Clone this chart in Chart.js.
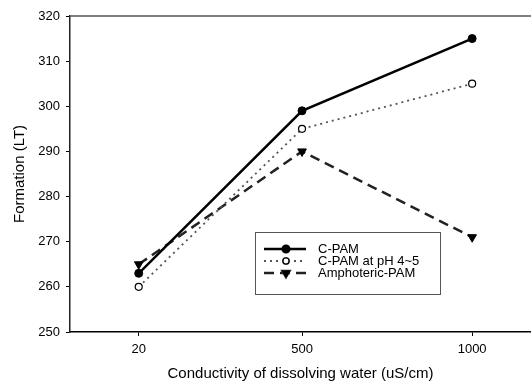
<!DOCTYPE html>
<html>
<head>
<meta charset="utf-8">
<script src="https://cdn.jsdelivr.net/npm/chart.js@4/dist/chart.umd.min.js"></script>
<style>
  html, body { margin: 0; padding: 0; background: #fff; overflow: hidden; }
  #wrap { width: 531px; height: 383px; position: relative; }
  #wrap canvas { display: block; }
</style>
</head>
<body>
<div id="wrap"><canvas id="grafico"></canvas></div>
<script>
// dados
const condutividade = [20, 500, 1000];
const cPam = [263, 299, 315];
const cPamPh = [260, 295, 305];
const anfotericoPam = [265, 290, 271];
const nomesSeries = ['C-PAM', 'C-PAM at pH 4~5', 'Amphoteric-PAM'];
const ticksY = [250, 260, 270, 280, 290, 300, 310, 320];

const fonte = "'Liberation Sans', Arial, sans-serif";

function pontos(valores) {
    return condutividade.map((x, i) => ({ x: x, y: valores[i] }));
}

const series = [
    {
        label: nomesSeries[0],
        data: pontos(cPam),
        borderColor: '#000',
        borderWidth: 2.5,
        pointStyle: 'circle',
        pointRadius: 4,
        pointBackgroundColor: '#000',
        pointBorderColor: '#000',
        pointBorderWidth: 1,
        legendaRaio: 3.3
    },
    {
        label: nomesSeries[1],
        data: pontos(cPamPh),
        borderColor: '#555',
        borderWidth: 1.8,
        borderDash: [2, 4],
        pointStyle: 'circle',
        pointRadius: 3.5,
        pointBackgroundColor: '#fff',
        pointBorderColor: '#000',
        pointBorderWidth: 1.2,
        legendaRaio: 3
    },
    {
        label: nomesSeries[2],
        data: pontos(anfotericoPam),
        borderColor: '#222',
        borderWidth: 2.5,
        borderDash: [10, 6],
        pointStyle: 'triangle',
        pointRotation: 180,
        pointRadius: 5,
        pointBackgroundColor: '#000',
        pointBorderColor: '#000',
        pointBorderWidth: 1,
        legendaRaio: 4
    }
];

// linha de cima do quadro + legenda desenhada dentro da área
const molduraELegenda = {
    id: 'molduraELegenda',
    afterDatasetsDraw(chart) {
        const ctx = chart.ctx;
        const area = chart.chartArea;
        ctx.save();
        ctx.strokeStyle = '#555';
        ctx.lineWidth = 1.5;
        ctx.beginPath();
        ctx.moveTo(area.left, area.top);
        ctx.lineTo(area.right, area.top);
        ctx.stroke();

        // caixa da legenda
        const bx = 255.5, by = 232.5, bw = 185, bh = 62;
        ctx.fillStyle = '#fff';
        ctx.fillRect(bx, by, bw, bh);
        ctx.strokeStyle = '#555';
        ctx.lineWidth = 1;
        ctx.strokeRect(bx, by, bw, bh);

        const linhaY = [249, 261, 273];
        chart.data.datasets.forEach((ds, i) => {
            const y = linhaY[i];
            ctx.strokeStyle = ds.borderColor;
            ctx.lineWidth = ds.borderWidth;
            ctx.setLineDash(ds.borderDash || []);
            ctx.beginPath();
            ctx.moveTo(264, y);
            ctx.lineTo(306, y);
            ctx.stroke();
            ctx.setLineDash([]);
            Chart.helpers.drawPoint(ctx, {
                pointStyle: ds.pointStyle,
                rotation: ds.pointRotation || 0,
                radius: ds.legendaRaio,
                borderWidth: ds.pointBorderWidth
            }, 286, y);
            ctx.fillStyle = ds.pointBackgroundColor;
            ctx.strokeStyle = ds.pointBorderColor;
            ctx.lineWidth = ds.pointBorderWidth;
            ctx.fill();
            ctx.stroke();
            ctx.fillStyle = '#000';
            ctx.font = '13px ' + fonte;
            ctx.textBaseline = 'middle';
            ctx.textAlign = 'left';
            ctx.fillText(ds.label, 318, y);
        });
        ctx.restore();
    }
};

new Chart(document.getElementById('grafico'), {
    type: 'line',
    data: { datasets: series },
    options: {
        responsive: true,
        maintainAspectRatio: false,
        animation: false,
        layout: { autoPadding: false, padding: { top: 16, right: 0, left: 0, bottom: 0 } },
        plugins: { legend: { display: false }, tooltip: { enabled: false } },
        scales: {
            x: {
                type: 'linear',
                min: -182,
                max: 1173,
                afterBuildTicks: s => { s.ticks = condutividade.map(v => ({ value: v })); },
                afterFit: s => { s.height = 51; s.paddingRight = 0; s.paddingLeft = 0; },
                ticks: {
                    color: '#000',
                    font: { family: fonte, size: 13 },
                    padding: 6,
                    maxRotation: 0,
                    callback: v => String(v)
                },
                grid: { drawOnChartArea: false, tickLength: 4, color: '#000' },
                border: { color: '#000', width: 1.5 },
                title: {
                    display: true,
                    text: 'Conductivity of dissolving water (uS/cm)',
                    color: '#000',
                    font: { family: fonte, size: 15 },
                    padding: { top: 0, bottom: 0 }
                }
            },
            y: {
                min: 250,
                max: 320,
                afterBuildTicks: s => { s.ticks = ticksY.map(v => ({ value: v })); },
                afterFit: s => { s.width = 70; },
                ticks: {
                    color: '#000',
                    font: { family: fonte, size: 13 },
                    padding: 6
                },
                grid: { drawOnChartArea: false, tickLength: 4, color: '#000' },
                border: { color: '#222', width: 1.5 },
                title: {
                    display: true,
                    text: 'Formation (LT)',
                    color: '#000',
                    font: { family: fonte, size: 15 },
                    padding: { top: 11, bottom: 0 }
                }
            }
        }
    },
    plugins: [molduraELegenda]
});
</script>
</body>
</html>
